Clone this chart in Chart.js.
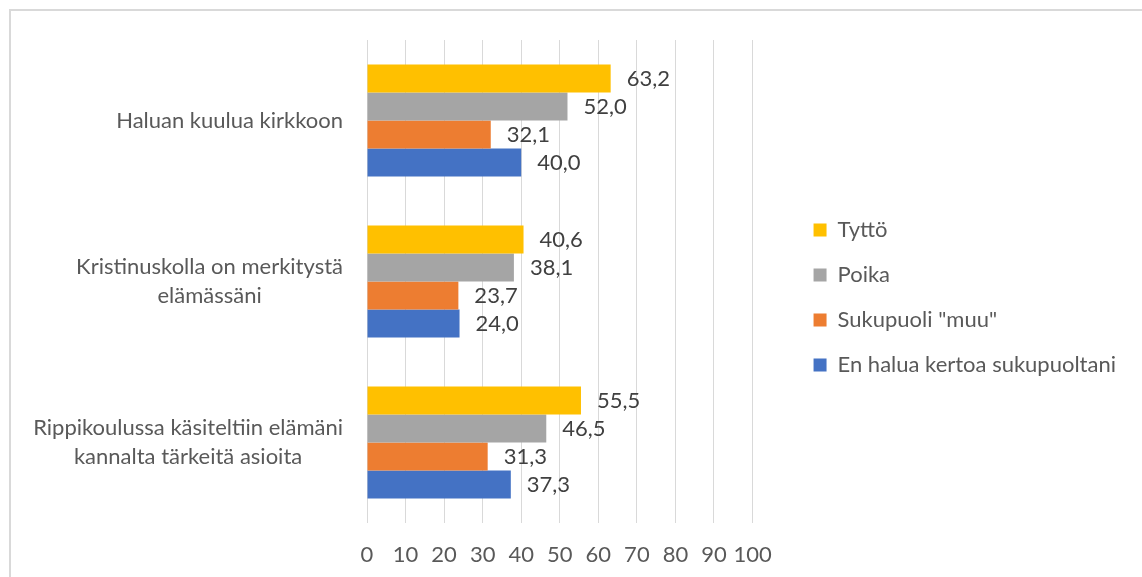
<!DOCTYPE html>
<html>
<head>
<meta charset="utf-8">
<script src="https://cdn.jsdelivr.net/npm/chart.js@4"></script>
<style>
  html, body { margin: 0; padding: 0; background: #fff; }
  #wrap { position: relative; width: 1142px; height: 577px; overflow: hidden; }
  #frame { position: absolute; left: 9px; top: 9px; width: 1200px; height: 700px;
           border-top: 2px solid #d9d9d9; border-left: 2px solid #d9d9d9; }
  #graph { position: absolute; left: 0; top: 0; }
</style>
</head>
<body>
<div id="wrap">
  <div id="frame"></div>
  <canvas id="graph" width="1142" height="577"></canvas>
</div>
<script>
/* data */
var categories = [
    ["Haluan kuulua kirkkoon"],
    ["Kristinuskolla on merkitystä", "elämässäni"],
    ["Rippikoulussa käsiteltiin elämäni", "kannalta tärkeitä asioita"]
];
var seriesNames = ["Tyttö", "Poika", "Sukupuoli \"muu\"", "En halua kertoa sukupuoltani"];
var tytto = [63.2, 40.6, 55.5];
var poika = [52.0, 38.1, 46.5];
var muu = [32.1, 23.7, 31.3];
var enHalua = [40.0, 24.0, 37.3];
var xTicks = [0, 10, 20, 30, 40, 50, 60, 70, 80, 90, 100];

var colors = ["#FFC000", "#A5A5A5", "#ED7D31", "#4472C4"];
var font = "Lato, 'Open Sans', sans-serif";
var fontSize = 22;
var textColor = "#595959";

Chart.defaults.font.family = font;
Chart.defaults.font.size = fontSize;
Chart.defaults.color = textColor;

// labels at the end of bars, Excel style "63,2"
var barLabels = {
    id: "barLabels",
    afterDatasetsDraw: function (chart) {
        var ctx = chart.ctx;
        ctx.save();
        ctx.font = fontSize + "px " + font;
        ctx.fillStyle = "#404040";
        ctx.textAlign = "left";
        ctx.textBaseline = "middle";
        chart.data.datasets.forEach(function (ds, i) {
            chart.getDatasetMeta(i).data.forEach(function (bar, j) {
                ctx.fillText(ds.data[j].toFixed(1).replace(".", ","), bar.x + 16, bar.y);
            });
        });
        ctx.restore();
    }
};

// category labels: block right aligned, lines centred inside the block
var catLabels = {
    id: "catLabels",
    afterDraw: function (chart) {
        var ctx = chart.ctx;
        var y = chart.scales.y;
        var right = chart.chartArea.left - 24;
        ctx.save();
        ctx.font = fontSize + "px " + font;
        ctx.fillStyle = textColor;
        ctx.textAlign = "center";
        ctx.textBaseline = "middle";
        categories.forEach(function (lines, i) {
            var w = 0;
            lines.forEach(function (l) { w = Math.max(w, ctx.measureText(l).width); });
            var cx = right - w / 2;
            var cy = y.getPixelForValue(i);
            var lh = 29;
            lines.forEach(function (l, k) {
                ctx.fillText(l, cx, cy + (k - (lines.length - 1) / 2) * lh);
            });
        });
        ctx.restore();
    }
};

var data = [tytto, poika, muu, enHalua];

// empty spacer scales, only to leave room around the plot area
function spacer(axis, position, size) {
    return {
        axis: axis,
        type: "linear",
        position: position,
        grid: { display: false },
        border: { display: false },
        ticks: { display: false },
        afterFit: function (s) {
            if (axis === "y") { s.width = size; } else { s.height = size; }
        }
    };
}

var myChart = new Chart(document.getElementById("graph").getContext("2d"), {
    type: "bar",
    data: {
        labels: categories,
        datasets: seriesNames.map(function (name, i) {
            return {
                label: name,
                data: data[i],
                backgroundColor: colors[i],
                borderWidth: 0,
                categoryPercentage: 0.696,
                barPercentage: 1.0
            };
        })
    },
    options: {
        indexAxis: "y",
        responsive: false,
        animation: false,
        layout: {
            padding: { left: 367, top: 18, right: 16, bottom: 0 }
        },
        scales: {
            x: {
                min: 0,
                max: 100,
                afterBuildTicks: function (s) {
                    s.ticks = xTicks.map(function (v) { return { value: v }; });
                },
                afterFit: function (s) { s.height = 54; },
                grid: { color: "#d9d9d9", lineWidth: 1, drawTicks: false },
                border: { display: false },
                ticks: { padding: 19, color: textColor, autoSkip: false, maxRotation: 0, minRotation: 0 }
            },
            y: {
                display: false
            },
            padRight: spacer("y", "right", 38),
            padTop: spacer("x", "top", 22)
        },
        plugins: {
            legend: {
                position: "right",
                align: "center",
                maxWidth: 420,
                labels: {
                    boxWidth: 13,
                    boxHeight: 13,
                    padding: 23,
                    color: textColor,
                    font: { size: fontSize }
                }
            },
            tooltip: { enabled: false }
        }
    },
    plugins: [barLabels, catLabels]
});
</script>
</body>
</html>
